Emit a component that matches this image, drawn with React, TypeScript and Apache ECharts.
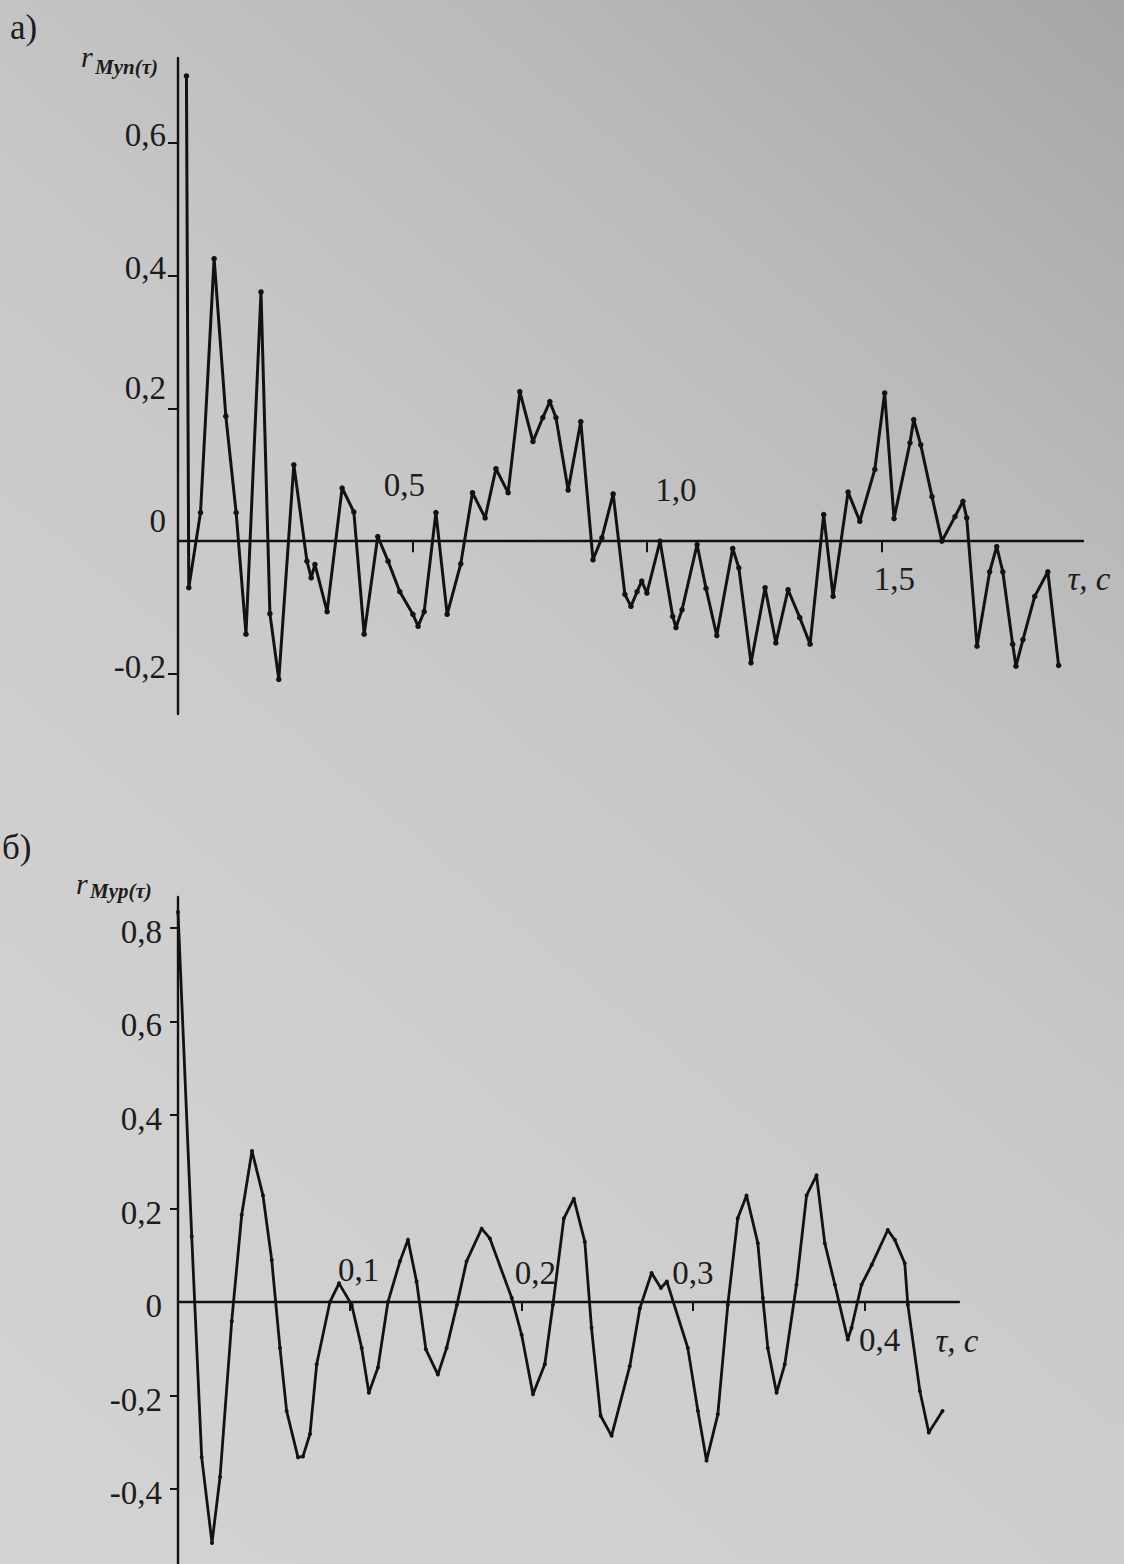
import React, { useEffect, useRef } from 'react';
import * as echarts from 'echarts';

// ---- Chart a) r_Myn(τ) ----
const topTau = [
  0.018, 0.023, 0.048, 0.077, 0.102, 0.124, 0.145, 0.177, 0.196, 0.215,
  0.247, 0.275, 0.284, 0.292, 0.318, 0.350, 0.375, 0.397, 0.426, 0.448,
  0.473, 0.501, 0.512, 0.525, 0.550, 0.574, 0.603, 0.628, 0.655, 0.678,
  0.704, 0.729, 0.757, 0.778, 0.793, 0.806, 0.832, 0.859, 0.885, 0.904,
  0.928, 0.953, 0.966, 0.979, 0.989, 1.000, 1.028, 1.055, 1.062, 1.075,
  1.107, 1.126, 1.149, 1.183, 1.196, 1.222, 1.252, 1.275, 1.301, 1.326,
  1.348, 1.377, 1.397, 1.429, 1.454, 1.486, 1.507, 1.527, 1.561, 1.569,
  1.584, 1.608, 1.629, 1.657, 1.674, 1.682, 1.704, 1.731, 1.746, 1.759,
  1.780, 1.787, 1.802, 1.827, 1.855, 1.878,
];
const topR = [
  0.70, -0.07, 0.043, 0.425, 0.188, 0.043, -0.14, 0.375, -0.109, -0.208,
  0.115, -0.03, -0.055, -0.035, -0.106, 0.08, 0.044, -0.14, 0.007, -0.03,
  -0.076, -0.11, -0.128, -0.106, 0.043, -0.11, -0.034, 0.073, 0.035, 0.109,
  0.073, 0.225, 0.15, 0.186, 0.21, 0.186, 0.077, 0.18, -0.028, 0.005,
  0.071, -0.08, -0.098, -0.076, -0.06, -0.078, 0.0, -0.113, -0.13, -0.103,
  -0.005, -0.071, -0.142, -0.011, -0.04, -0.183, -0.07, -0.153, -0.073, -0.115,
  -0.155, 0.04, -0.083, 0.074, 0.03, 0.108, 0.223, 0.034, 0.148, 0.183,
  0.145, 0.067, 0.0, 0.037, 0.06, 0.035, -0.158, -0.046, -0.008, -0.046,
  -0.155, -0.188, -0.148, -0.083, -0.046, -0.187,
];
const topYTicks = [-0.2, 0, 0.2, 0.4, 0.6];
const topXTicks = [0.5, 1.0, 1.5];
const topXLabelTexts = ['0,5', '1,0', '1,5'];

// ---- Chart б) r_Myp(τ) ----
const botTau = [
  0.000, 0.008, 0.0138, 0.0198, 0.0245, 0.0313, 0.0371, 0.0431, 0.0495, 0.0546,
  0.0594, 0.0633, 0.0699, 0.0728, 0.0769, 0.0808, 0.0885, 0.0938, 0.1012, 0.1070,
  0.1112, 0.1165, 0.1223, 0.1293, 0.1340, 0.1390, 0.1444, 0.1514, 0.1565, 0.1625,
  0.1681, 0.1769, 0.1817, 0.1944, 0.2002, 0.2068, 0.2137, 0.2184, 0.2248, 0.2306,
  0.2370, 0.2409, 0.2462, 0.2526, 0.2632, 0.2691, 0.2759, 0.2813, 0.2848, 0.2970,
  0.3029, 0.3079, 0.3145, 0.3203, 0.3261, 0.3312, 0.3378, 0.3407, 0.3436, 0.3487,
  0.3535, 0.3603, 0.3662, 0.3720, 0.3768, 0.3827, 0.3902, 0.3924, 0.3982, 0.4042,
  0.4135, 0.4176, 0.4234, 0.4252, 0.4322, 0.4374, 0.4454,
];
const botR = [
  0.834, 0.14, -0.332, -0.515, -0.374, -0.041, 0.186, 0.323, 0.228, 0.09,
  -0.098, -0.233, -0.332, -0.33, -0.282, -0.133, 0.0, 0.04, -0.006, -0.098,
  -0.194, -0.14, 0.0, 0.087, 0.133, 0.044, -0.101, -0.155, -0.098, -0.006,
  0.087, 0.157, 0.136, 0.009, -0.07, -0.197, -0.133, -0.006, 0.179, 0.221,
  0.129, -0.055, -0.243, -0.286, -0.137, -0.013, 0.062, 0.03, 0.044, -0.098,
  -0.233, -0.339, -0.24, -0.006, 0.179, 0.228, 0.126, 0.009, -0.098, -0.194,
  -0.133, 0.037, 0.228, 0.271, 0.126, 0.037, -0.08, -0.055, 0.037, 0.08,
  0.154, 0.133, 0.083, -0.006, -0.19, -0.279, -0.233,
];
const botYTicks = [-0.4, -0.2, 0, 0.2, 0.4, 0.6, 0.8];
const botXTicks = [0.1, 0.2, 0.3, 0.4];
const botXLabelTexts = ['0,1', '0,2', '0,3', '0,4'];

const TOP_X_MAX = 1.93;
const BOT_X_MAX = 0.455;

const INK = '#121212';
const TXT = '#1c1c1c';
const SERIF = '"Liberation Serif", "DejaVu Serif", serif';

const fmt = (v: number) => {
  if (Math.abs(v) < 1e-9) return '0';
  return (v < 0 ? '-' : '') + Math.abs(v).toFixed(1).replace('.', ',');
};

export default function App() {
  const ref = useRef<HTMLDivElement>(null);

  useEffect(() => {
    if (!ref.current) return;
    const chart = echarts.init(ref.current, undefined, { renderer: 'svg' });

    const labelFont = { fontFamily: SERIF, fontSize: 33, color: TXT, opacity: 1 };

    const topOffsets = [[-8, -56], [29, -51], [13, 38]];
    const botOffsets = [[9, -32], [14, -29], [0, -29], [15, 38]];

    const option: any = {
      animation: false,
      backgroundColor: 'transparent',
      grid: [
        { left: 178, top: 58, width: 905, height: 656 },
        { left: 178, top: 897, width: 781, height: 670 },
      ],
      xAxis: [
        {
          type: 'value', gridIndex: 0, min: 0, max: TOP_X_MAX,
          axisLine: { show: true, onZero: true, lineStyle: { color: INK, width: 2.4 } },
          axisTick: { show: true, customValues: topXTicks, length: 11, lineStyle: { color: INK, width: 2 } },
          axisLabel: { show: false },
          splitLine: { show: false },
        },
        {
          type: 'value', gridIndex: 1, min: 0, max: BOT_X_MAX,
          axisLine: { show: true, onZero: true, lineStyle: { color: INK, width: 2.4 } },
          axisTick: { show: true, customValues: botXTicks, length: 9, lineStyle: { color: INK, width: 2 } },
          axisLabel: { show: false },
          splitLine: { show: false },
        },
      ],
      yAxis: [
        {
          type: 'value', gridIndex: 0, min: -0.26, max: 0.727,
          axisLine: { show: true, onZero: false, lineStyle: { color: INK, width: 2.4 } },
          axisTick: { show: true, customValues: topYTicks.filter((v) => v !== 0), length: 10, lineStyle: { color: INK, width: 2 } },
          axisLabel: {
            show: true,
            customValues: topYTicks,
            margin: 12,
            formatter: (v: number) => {
              const s = fmt(v);
              return Math.abs(v) < 1e-9 || Math.abs(v - 0.2) < 1e-9 ? `{hi|${s}}` : `{lo|${s}}`;
            },
            rich: {
              hi: { ...labelFont, padding: [0, 0, 40, 0] },
              lo: { ...labelFont, padding: [0, 0, 14, 0] },
            },
          },
          splitLine: { show: false },
        },
        {
          type: 'value', gridIndex: 1, min: -0.56, max: 0.866,
          axisLine: { show: true, onZero: false, lineStyle: { color: INK, width: 2.4 } },
          axisTick: { show: true, customValues: botYTicks.filter((v) => v !== 0), length: 8, lineStyle: { color: INK, width: 2 } },
          axisLabel: {
            show: true,
            customValues: botYTicks,
            margin: 16,
            formatter: (v: number) => `{n|${fmt(v)}}`,
            rich: { n: { ...labelFont, padding: [8, 0, 0, 0] } },
          },
          splitLine: { show: false },
        },
        {
          type: 'value', gridIndex: 1, min: -0.56, max: 0.866,
          axisLine: { show: false },
          axisTick: { show: true, inside: true, customValues: botYTicks.filter((v) => v !== 0), length: 4, lineStyle: { color: INK, width: 2 } },
          axisLabel: { show: false },
          splitLine: { show: false },
        },
      ],
      series: [
        {
          type: 'line', xAxisIndex: 0, yAxisIndex: 0,
          data: topTau.map((t, i) => [t, topR[i]]),
          symbol: 'circle', symbolSize: 5.5, showSymbol: true,
          lineStyle: { color: INK, width: 3 },
          itemStyle: { color: INK },
          z: 3,
        },
        {
          type: 'line', xAxisIndex: 1, yAxisIndex: 1,
          data: botTau.map((t, i) => [t, botR[i]]),
          symbol: 'circle', symbolSize: 4, showSymbol: true,
          lineStyle: { color: INK, width: 2.8 },
          itemStyle: { color: INK },
          z: 3,
        },
        {
          type: 'scatter', xAxisIndex: 0, yAxisIndex: 0, clip: false,
          symbolSize: 1, itemStyle: { color: 'rgba(0,0,0,0)' }, silent: true,
          emphasis: { disabled: true },
          data: [
            ...topXTicks.map((t, i) => ({
              value: [t, 0],
              label: { show: true, position: 'inside', offset: topOffsets[i], formatter: topXLabelTexts[i], ...labelFont },
            })),
            {
              value: [TOP_X_MAX, 0],
              label: { show: true, position: 'inside', offset: [6, 38], formatter: 'τ, c', ...labelFont, fontStyle: 'italic' },
            },
          ],
        },
        {
          type: 'scatter', xAxisIndex: 1, yAxisIndex: 1, clip: false,
          symbolSize: 1, itemStyle: { color: 'rgba(0,0,0,0)' }, silent: true,
          emphasis: { disabled: true },
          data: [
            ...botXTicks.map((t, i) => ({
              value: [t, 0],
              label: { show: true, position: 'inside', offset: botOffsets[i], formatter: botXLabelTexts[i], ...labelFont },
            })),
            {
              value: [BOT_X_MAX, 0],
              label: { show: true, position: 'inside', offset: [-2, 39], formatter: 'τ, c', ...labelFont, fontStyle: 'italic' },
            },
          ],
        },
      ],
      graphic: [
        { type: 'text', left: 10, top: 10, style: { text: 'а)', fontFamily: SERIF, fontSize: 35, fill: TXT } },
        { type: 'text', x: 81, y: 56, style: { text: 'r', fontFamily: SERIF, fontSize: 30, fontStyle: 'italic', fill: TXT, verticalAlign: 'middle' } },
        { type: 'text', x: 95, y: 67, style: { text: 'Myn(τ)', fontFamily: SERIF, fontSize: 21, fontStyle: 'italic', fontWeight: 'bold', fill: TXT, verticalAlign: 'middle' } },
        { type: 'text', left: 2, top: 830, style: { text: 'б)', fontFamily: SERIF, fontSize: 35, fill: TXT } },
        { type: 'text', x: 76, y: 883, style: { text: 'r', fontFamily: SERIF, fontSize: 30, fontStyle: 'italic', fill: TXT, verticalAlign: 'middle' } },
        { type: 'text', x: 90, y: 891, style: { text: 'Myp(τ)', fontFamily: SERIF, fontSize: 21, fontStyle: 'italic', fontWeight: 'bold', fill: TXT, verticalAlign: 'middle' } },
      ],
    };

    chart.setOption(option);
    return () => chart.dispose();
  }, []);

  return (
    <div
      style={{
        position: 'fixed',
        left: 0,
        top: 0,
        width: 1124,
        height: 1564,
        overflow: 'hidden',
        background:
          'linear-gradient(220deg, #a6a6a6 0%, #bababa 22%, #c8c8c8 45%, #cfcfcf 70%, #d3d3d3 100%)',
      }}
    >
      <div ref={ref} style={{ width: 1124, height: 1564 }} />
    </div>
  );
}
